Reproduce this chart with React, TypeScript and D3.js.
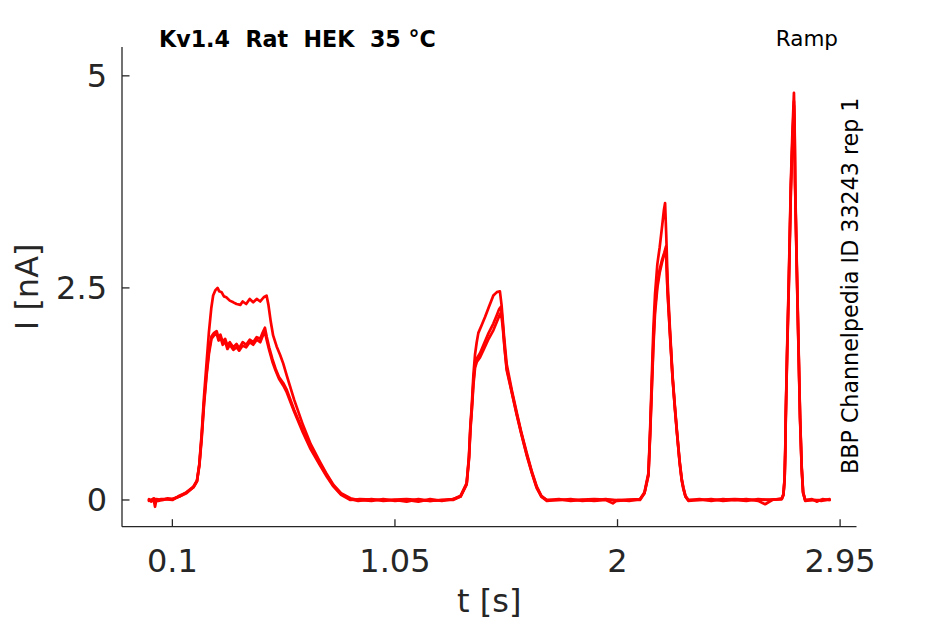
import React, { useEffect } from 'react';
import * as d3 from 'd3';

// sweep with the largest first plateau
const sweepUpper: [number, number][] = [
  [0.0, 0.0], [0.01, -0.02], [0.02, 0.01], [0.026, -0.08], [0.032, 0.01], [0.06, 0.0], [0.08, 0.02],
  [0.1, 0.01], [0.13, 0.04], [0.16, 0.09], [0.19, 0.15], [0.205, 0.22], [0.215, 0.42], [0.225, 0.78],
  [0.235, 1.22], [0.246, 1.62], [0.256, 1.98], [0.266, 2.26], [0.274, 2.41], [0.283, 2.47], [0.293, 2.5],
  [0.3, 2.46], [0.31, 2.45], [0.32, 2.4], [0.33, 2.39], [0.345, 2.35], [0.36, 2.33], [0.374, 2.31],
  [0.39, 2.3], [0.4, 2.34], [0.415, 2.31], [0.43, 2.37], [0.445, 2.33], [0.46, 2.37], [0.475, 2.34],
  [0.49, 2.39], [0.502, 2.41], [0.51, 2.3], [0.52, 2.1], [0.53, 1.94], [0.545, 1.81], [0.56, 1.71],
  [0.573, 1.61], [0.588, 1.47], [0.62, 1.18], [0.658, 0.88], [0.69, 0.66], [0.73, 0.45], [0.76, 0.3],
  [0.787, 0.18], [0.82, 0.08], [0.86, 0.02], [0.893, 0.0], [0.95, -0.01], [1.0, 0.01], [1.05, -0.01],
  [1.1, 0.0], [1.15, -0.02], [1.2, 0.01], [1.25, -0.01], [1.298, 0.01], [1.33, 0.05], [1.356, 0.2],
  [1.366, 0.52], [1.372, 0.88], [1.378, 1.12], [1.385, 1.48], [1.392, 1.72], [1.399, 1.86], [1.406, 1.97],
  [1.42, 2.06], [1.435, 2.16], [1.45, 2.27], [1.47, 2.41], [1.485, 2.45], [1.498, 2.46], [1.505, 2.3],
  [1.515, 1.95], [1.527, 1.6], [1.55, 1.28], [1.57, 1.03], [1.59, 0.79], [1.612, 0.56], [1.635, 0.33],
  [1.655, 0.16], [1.675, 0.05], [1.698, 0.0], [1.75, 0.01], [1.8, -0.01], [1.85, 0.0], [1.9, -0.01],
  [1.95, 0.0], [1.98, -0.04], [2.0, 0.0], [2.05, -0.01], [2.096, 0.01], [2.115, 0.09], [2.132, 0.32],
  [2.139, 0.82], [2.146, 1.42], [2.153, 2.02], [2.16, 2.42], [2.17, 2.78], [2.18, 2.98], [2.19, 3.22],
  [2.198, 3.42], [2.203, 3.5], [2.208, 3.12], [2.214, 2.56], [2.224, 2.0], [2.235, 1.46], [2.245, 1.1],
  [2.253, 0.83], [2.265, 0.46], [2.274, 0.25], [2.281, 0.15], [2.29, 0.05], [2.302, 0.0], [2.35, 0.01],
  [2.4, -0.01], [2.45, 0.01], [2.5, 0.0], [2.55, 0.01], [2.6, -0.01], [2.63, -0.05], [2.66, 0.0],
  [2.701, 0.02], [2.708, 0.07], [2.713, 0.25], [2.716, 0.6], [2.718, 1.0], [2.724, 1.8], [2.731, 2.6],
  [2.74, 3.77], [2.746, 4.3], [2.753, 4.8], [2.756, 4.4], [2.758, 3.77], [2.765, 2.8], [2.772, 1.9],
  [2.779, 1.0], [2.786, 0.4], [2.792, 0.1], [2.801, 0.0], [2.83, 0.01], [2.85, -0.02], [2.875, 0.01],
  [2.905, 0.0],
];

const sweepLowerA: [number, number][] = [
  [0.0, 0.01], [0.012, -0.01], [0.02, 0.02], [0.04, -0.01], [0.07, 0.01], [0.1, 0.0], [0.13, 0.05],
  [0.16, 0.09], [0.19, 0.16], [0.205, 0.23], [0.215, 0.42], [0.225, 0.75], [0.235, 1.15], [0.246, 1.5],
  [0.256, 1.76], [0.267, 1.93], [0.278, 1.97], [0.289, 1.99], [0.297, 1.91], [0.305, 1.95], [0.315, 1.86],
  [0.325, 1.9], [0.335, 1.82], [0.345, 1.86], [0.36, 1.8], [0.374, 1.84], [0.385, 1.79], [0.4, 1.86],
  [0.415, 1.83], [0.43, 1.89], [0.445, 1.86], [0.46, 1.92], [0.475, 1.9], [0.485, 1.97], [0.495, 2.03],
  [0.503, 1.92], [0.513, 1.8], [0.527, 1.66], [0.54, 1.55], [0.555, 1.45], [0.573, 1.38], [0.588, 1.3],
  [0.62, 1.06], [0.658, 0.81], [0.69, 0.62], [0.73, 0.43], [0.76, 0.29], [0.787, 0.17], [0.82, 0.07],
  [0.86, 0.01], [0.893, -0.01], [0.95, 0.01], [1.0, -0.01], [1.05, 0.0], [1.1, -0.02], [1.15, 0.01],
  [1.2, -0.01], [1.25, 0.0], [1.298, 0.0], [1.33, 0.04], [1.356, 0.19], [1.366, 0.5], [1.372, 0.85],
  [1.378, 1.08], [1.385, 1.4], [1.392, 1.6], [1.4, 1.67], [1.413, 1.73], [1.43, 1.84], [1.45, 1.97],
  [1.47, 2.08], [1.485, 2.18], [1.495, 2.25], [1.503, 2.28], [1.51, 2.08], [1.518, 1.8], [1.527, 1.55],
  [1.55, 1.26], [1.57, 1.01], [1.59, 0.78], [1.612, 0.54], [1.635, 0.32], [1.655, 0.15], [1.675, 0.04],
  [1.698, -0.01], [1.75, 0.0], [1.8, 0.01], [1.85, -0.01], [1.9, 0.0], [1.95, 0.01], [2.0, -0.01],
  [2.05, 0.0], [2.096, 0.0], [2.115, 0.08], [2.132, 0.3], [2.139, 0.78], [2.146, 1.32], [2.153, 1.86],
  [2.16, 2.26], [2.17, 2.55], [2.18, 2.72], [2.19, 2.83], [2.2, 2.92], [2.207, 2.99], [2.213, 2.5],
  [2.224, 1.96], [2.235, 1.44], [2.245, 1.08], [2.253, 0.82], [2.265, 0.45], [2.274, 0.24], [2.281, 0.14],
  [2.29, 0.04], [2.302, -0.01], [2.35, 0.0], [2.4, 0.01], [2.45, -0.01], [2.5, 0.0], [2.55, -0.01],
  [2.6, 0.01], [2.65, 0.0], [2.701, 0.01], [2.708, 0.06], [2.713, 0.24], [2.716, 0.58], [2.718, 0.97],
  [2.724, 1.75], [2.731, 2.55], [2.74, 3.7], [2.746, 4.2], [2.753, 4.7], [2.756, 4.35], [2.758, 3.72],
  [2.765, 2.75], [2.772, 1.86], [2.779, 0.98], [2.786, 0.38], [2.792, 0.09], [2.801, -0.01], [2.84, 0.0],
  [2.87, -0.01], [2.905, 0.01],
];

const sweepLowerB: [number, number][] = [
  [0.0, -0.01], [0.015, 0.01], [0.03, -0.02], [0.05, 0.01], [0.1, 0.01], [0.13, 0.04], [0.16, 0.08],
  [0.19, 0.15], [0.205, 0.22], [0.215, 0.4], [0.225, 0.72], [0.235, 1.12], [0.246, 1.47], [0.256, 1.72],
  [0.267, 1.9], [0.278, 1.94], [0.289, 1.96], [0.297, 1.88], [0.305, 1.92], [0.315, 1.83], [0.325, 1.87],
  [0.335, 1.78], [0.345, 1.83], [0.36, 1.77], [0.374, 1.8], [0.385, 1.76], [0.4, 1.82], [0.415, 1.8],
  [0.43, 1.86], [0.445, 1.83], [0.46, 1.89], [0.475, 1.86], [0.485, 1.93], [0.495, 1.98], [0.503, 1.88],
  [0.513, 1.77], [0.527, 1.63], [0.54, 1.53], [0.555, 1.43], [0.573, 1.35], [0.588, 1.27], [0.62, 1.04],
  [0.658, 0.79], [0.69, 0.6], [0.73, 0.41], [0.76, 0.27], [0.787, 0.16], [0.82, 0.06], [0.86, 0.0],
  [0.9, 0.01], [1.0, 0.0], [1.1, 0.01], [1.2, -0.01], [1.298, 0.01], [1.33, 0.04], [1.356, 0.18],
  [1.366, 0.48], [1.372, 0.82], [1.378, 1.05], [1.385, 1.36], [1.392, 1.56], [1.4, 1.63], [1.413, 1.68],
  [1.43, 1.78], [1.45, 1.9], [1.47, 2.0], [1.485, 2.1], [1.495, 2.17], [1.503, 2.21], [1.51, 2.04],
  [1.518, 1.78], [1.527, 1.53], [1.55, 1.25], [1.57, 1.0], [1.59, 0.77], [1.612, 0.53], [1.635, 0.31],
  [1.655, 0.14], [1.675, 0.04], [1.698, 0.0], [1.8, 0.0], [1.9, 0.01], [2.0, 0.0], [2.096, 0.01],
  [2.115, 0.08], [2.132, 0.29], [2.139, 0.75], [2.146, 1.28], [2.153, 1.8], [2.16, 2.2], [2.17, 2.5],
  [2.18, 2.68], [2.19, 2.8], [2.2, 2.9], [2.207, 2.96], [2.213, 2.48], [2.224, 1.94], [2.235, 1.43],
  [2.245, 1.07], [2.253, 0.81], [2.265, 0.44], [2.274, 0.23], [2.281, 0.13], [2.29, 0.04], [2.302, 0.0],
  [2.4, 0.0], [2.5, 0.01], [2.6, 0.0], [2.701, 0.01], [2.708, 0.06], [2.713, 0.23], [2.716, 0.56],
  [2.718, 0.95], [2.724, 1.72], [2.731, 2.5], [2.74, 3.65], [2.746, 4.15], [2.753, 4.65], [2.756, 4.3],
  [2.758, 3.7], [2.765, 2.72], [2.772, 1.84], [2.779, 0.96], [2.786, 0.37], [2.792, 0.08], [2.801, 0.0],
  [2.86, 0.0], [2.905, 0.0],
];

const sweeps = [sweepLowerB, sweepLowerA, sweepUpper];

const xTicks = [0.1, 1.05, 2, 2.95];
const xTickLabels = ['0.1', '1.05', '2', '2.95'];
const yTicks = [0, 2.5, 5];
const yTickLabels = ['0', '2.5', '5'];

const title = 'Kv1.4  Rat  HEK  35 °C';
const protocol = 'Ramp';
const source = 'BBP Channelpedia ID 33243 rep 1';

const W = 945;
const H = 624;
const axisColor = '#262626';
const font = '"DejaVu Sans", sans-serif';

export default function App() {
  useEffect(() => {
    document.body.style.margin = '0';
  }, []);

  const x = d3.scaleLinear().domain([-0.115, 3.02]).range([122, 856.5]);
  const y = d3.scaleLinear().domain([-0.315, 5.34]).range([526.7, 47]);

  const line = d3.line<[number, number]>()
    .x(d => x(d[0]))
    .y(d => y(d[1]));

  const [x0, x1] = x.range();
  const [y0, y1] = y.range();

  return (
    <svg width={W} height={H} style={{ display: 'block', background: '#fff' }}>
      {sweeps.map((s, i) => (
        <path key={i} d={line(s) ?? ''} fill="none" stroke="#ff0000" strokeWidth={2.7}
          strokeLinejoin="round" strokeLinecap="round" />
      ))}

      {/* axes */}
      <line x1={x0} x2={x1} y1={y0} y2={y0} stroke={axisColor} strokeWidth={1.3} />
      <line x1={x0} x2={x0} y1={y0} y2={y1} stroke={axisColor} strokeWidth={1.3} />
      {xTicks.map((t, i) => (
        <g key={t}>
          <line x1={x(t)} x2={x(t)} y1={y0} y2={y0 - 7.5} stroke={axisColor} strokeWidth={1.3} />
          <text x={x(t)} y={572} textAnchor="middle" fontFamily={font} fontSize={32} fill={axisColor}>
            {xTickLabels[i]}
          </text>
        </g>
      ))}
      {yTicks.map((v, i) => (
        <g key={v}>
          <line x1={x0} x2={x0 + 7.5} y1={y(v)} y2={y(v)} stroke={axisColor} strokeWidth={1.3} />
          <text x={107} y={y(v) + 11.5} textAnchor="end" fontFamily={font} fontSize={32} fill={axisColor}>
            {yTickLabels[i]}
          </text>
        </g>
      ))}

      <text x={(x0 + x1) / 2} y={612} textAnchor="middle" fontFamily={font} fontSize={32} fill={axisColor}>
        t [s]
      </text>
      <text transform={`translate(38,${(y0 + y1) / 2}) rotate(-90)`} textAnchor="middle"
        fontFamily={font} fontSize={32} fill={axisColor}>
        I [nA]
      </text>

      <text x={159} y={47} fontFamily={font} fontSize={22.2} fontWeight="bold" fill="#000"
        style={{ whiteSpace: 'pre' }}>
        {title}
      </text>
      <text x={838} y={46} textAnchor="end" fontFamily={font} fontSize={21.5} fill="#000">
        {protocol}
      </text>
      <text transform="translate(858,474) rotate(-90)" fontFamily={font} fontSize={22.2} fill="#000">
        {source}
      </text>
    </svg>
  );
}
